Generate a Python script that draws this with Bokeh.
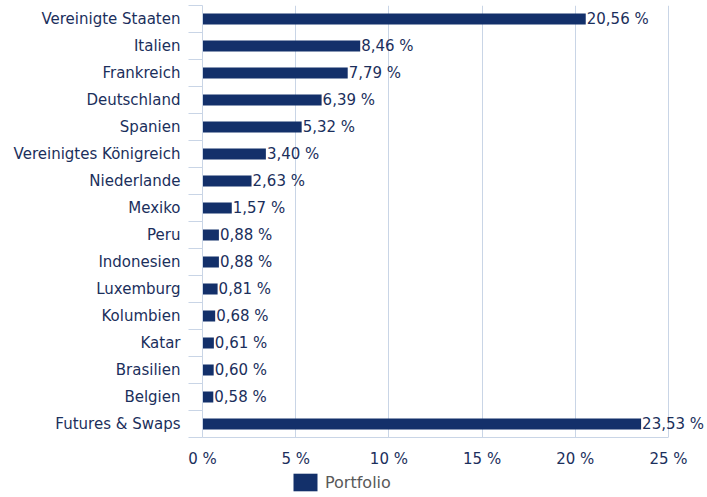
from bokeh.plotting import figure
from bokeh.models import (ColumnDataSource, Range1d, FixedTicker, Legend, LegendItem)
from bokeh.layouts import column
from bokeh.embed import file_html
from bokeh.resources import INLINE

categories = ["Vereinigte Staaten", "Italien", "Frankreich", "Deutschland", "Spanien",
              "Vereinigtes Königreich", "Niederlande", "Mexiko", "Peru", "Indonesien",
              "Luxemburg", "Kolumbien", "Katar", "Brasilien", "Belgien", "Futures & Swaps"]
portfolio = [20.56, 8.46, 7.79, 6.39, 5.32, 3.40, 2.63, 1.57, 0.88, 0.88,
             0.81, 0.68, 0.61, 0.60, 0.58, 23.53]
x_ticks = [0, 5, 10, 15, 20, 25]
x_tick_labels = ["0 %", "5 %", "10 %", "15 %", "20 %", "25 %"]
series_name = "Portfolio"

BAR = "#13306a"
TEXT = "#1b2f5c"
GRID = "#c9d5e6"
FONT = "DejaVu Sans"

n = len(categories)
ypos = [i + 0.5 for i in range(n)]
labels = [f"{v:.2f}".replace(".", ",") + " %" for v in portfolio]

src = ColumnDataSource(dict(y=ypos, v=portfolio, lab=labels, cat=categories))

frame_w = 504
frame_h = 432
x_end = 25 * frame_w / 466.0

p = figure(frame_width=frame_w, frame_height=frame_h, output_backend="svg",
           toolbar_location=None, x_range=Range1d(0, x_end), y_range=Range1d(n, 0),
           min_border_left=202, min_border_right=0, min_border_top=5, min_border_bottom=30)
p.outline_line_color = None
p.background_fill_color = "white"
p.border_fill_color = "white"

r = p.hbar(y="y", right="v", left=0, height=0.4, source=src, color=BAR, line_color=None)
p.text(x="v", y="y", text="lab", source=src, text_align="left", text_baseline="middle",
       text_font_size="15px", text_color=TEXT, text_font={"value": FONT}, x_offset=1)

# x axis
xa = p.xaxis[0]
xa.ticker = FixedTicker(ticks=x_ticks)
xa.major_label_overrides = {t: l for t, l in zip(x_ticks, x_tick_labels)}
xa.bounds = (0, 25)
xa.axis_line_color = GRID
xa.major_tick_line_color = None
xa.minor_tick_line_color = None
xa.major_tick_out = 0
xa.major_tick_in = 0
xa.major_label_standoff = 12
xa.major_label_text_font = FONT
xa.major_label_text_font_size = "15px"
xa.major_label_text_color = TEXT

# y axis
ya = p.yaxis[0]
ya.ticker = FixedTicker(ticks=ypos, minor_ticks=list(range(n + 1)))
ya.major_label_overrides = {y: c for y, c in zip(ypos, categories)}
ya.axis_line_color = GRID
ya.major_tick_line_color = None
ya.major_tick_out = 0
ya.major_tick_in = 0
ya.minor_tick_line_color = GRID
ya.minor_tick_out = 14
ya.minor_tick_in = 0
ya.major_label_standoff = 8
ya.major_label_text_font = FONT
ya.major_label_text_font_size = "15px"
ya.major_label_text_color = TEXT

p.xgrid.ticker = FixedTicker(ticks=x_ticks)
p.xgrid.grid_line_color = GRID
p.ygrid.grid_line_color = None

# legend strip below the chart (zero-length bar only carries the legend swatch style)
lg = figure(frame_width=202 + frame_w, frame_height=30, output_backend="svg",
            toolbar_location=None, x_axis_type=None, y_axis_type=None,
            x_range=Range1d(0, 1), y_range=Range1d(0, 1),
            min_border_left=0, min_border_right=0, min_border_top=0, min_border_bottom=0)
lg.outline_line_color = None
lg.grid.grid_line_color = None
lr = lg.hbar(y=[0.5], right=[0], left=0, height=0.4, color=BAR, line_color=None)

legend = Legend(items=[LegendItem(label=series_name, renderers=[lr])],
                location=(290, 7), orientation="horizontal",
                border_line_color=None, background_fill_alpha=0,
                margin=0, padding=5, glyph_width=30, glyph_height=22,
                label_height=18, label_standoff=5,
                label_text_font=FONT, label_text_font_size="16px",
                label_text_color="#595959")
lg.add_layout(legend, "center")

open("out.html", "w").write(file_html(column(p, lg, spacing=0), INLINE))
